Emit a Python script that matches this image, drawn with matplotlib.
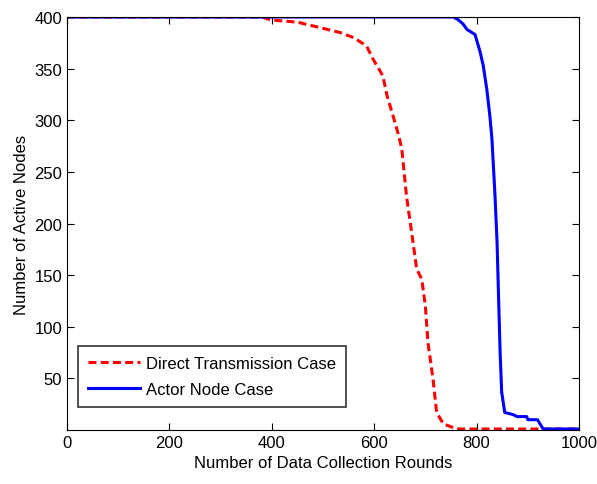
import matplotlib
matplotlib.use("Agg")
import matplotlib.pyplot as plt

plt.rcParams['font.family'] = ['Liberation Sans', 'DejaVu Sans']

# Direct transmission case (red dashed)
direct_x = [0, 380, 400, 450, 500, 533, 560, 585, 598, 617, 625, 637, 648, 654,
            663, 673, 683, 693, 700, 705, 715, 722, 735, 761, 1000]
direct_y = [400, 400, 397, 395, 389, 385, 380, 372, 359, 343, 324, 304, 285, 272,
            227, 192, 156, 146, 120, 85, 49, 17, 6, 1, 1]

# Actor node case (blue solid)
actor_x = [0, 755, 765, 774, 781, 797, 807, 813, 820, 826, 830, 836, 840, 842,
           846, 849, 855, 871, 879, 898, 900, 919, 930, 1000]
actor_y = [400, 400, 397, 393, 388, 383, 366, 353, 330, 304, 282, 227, 182, 146,
           75, 37, 17, 15, 13, 13, 10, 10, 1, 1]

fig = plt.figure(figsize=(5.97, 4.85), dpi=100)
ax = fig.add_axes([0.1122, 0.1113, 0.8576, 0.8516])

ax.plot(direct_x, direct_y, color='red', linestyle='--', linewidth=2.2,
        dashes=(2.6, 1.4), label='Direct Transmission Case')
ax.plot(actor_x, actor_y, color='blue', linewidth=2.2, label='Actor Node Case')

ax.set_xlim(0, 1000)
ax.set_ylim(0, 400)
ax.set_xticks([0, 200, 400, 600, 800, 1000])
ax.set_yticks(range(50, 401, 50))
ax.tick_params(direction='in', top=True, right=True, labelsize=12, length=5)
ax.set_xlabel('Number of Data Collection Rounds', fontsize=12)
ax.set_ylabel('Number of Active Nodes', fontsize=12)

leg = ax.legend(loc='lower left', bbox_to_anchor=(0.0215, 0.056), borderaxespad=0,
                fontsize=12, frameon=True, fancybox=False, edgecolor='black',
                handlelength=3.1, handletextpad=0.4, borderpad=0.6,
                labelspacing=0.65)
leg.get_frame().set_linewidth(1.2)

fig.savefig('out.png', dpi=100)
